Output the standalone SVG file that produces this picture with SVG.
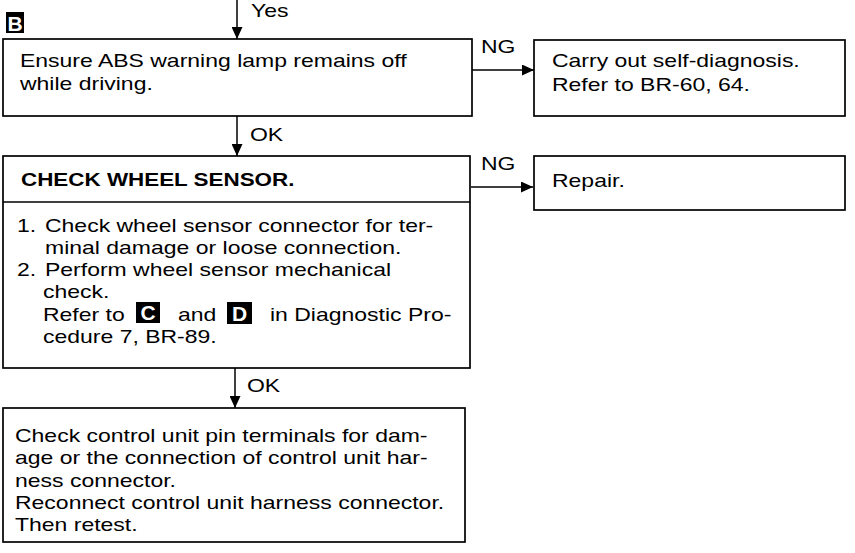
<svg xmlns="http://www.w3.org/2000/svg" width="855" height="553" viewBox="0 0 855 553">
<style>
  .box{fill:#fff;stroke:#000;stroke-width:1.7}
  .ln{fill:none;stroke:#000;stroke-width:1.5}
  text{font-family:"Liberation Sans",Arial,sans-serif;font-size:19px;fill:#000}
  .b{font-weight:bold}
  .badge{fill:#000}
  .bt{fill:#fff;font-weight:bold;font-size:21px}
</style>
<defs>
  <marker id="ah" markerUnits="userSpaceOnUse" markerWidth="13" markerHeight="11" refX="12" refY="5.5" orient="auto">
    <path d="M0,0 L12,5.5 L0,11 z" fill="#000"/>
  </marker>
</defs>
<rect width="855" height="553" fill="#fff"/>

<g id="connectors">
  <line class="ln" x1="237" y1="0" x2="237" y2="39" marker-end="url(#ah)"/>
  <text transform="matrix(1.21 0 0 1 251 17)">Yes</text>
  <line class="ln" x1="237" y1="116" x2="237" y2="156" marker-end="url(#ah)"/>
  <text transform="matrix(1.21 0 0 1 250 141)">OK</text>
  <line class="ln" x1="235" y1="368" x2="235" y2="408" marker-end="url(#ah)"/>
  <text transform="matrix(1.21 0 0 1 247 392)">OK</text>
  <line class="ln" x1="472" y1="70" x2="534" y2="70" marker-end="url(#ah)"/>
  <text transform="matrix(1.21 0 0 1 481 53)">NG</text>
  <line class="ln" x1="471" y1="187" x2="533" y2="187" marker-end="url(#ah)"/>
  <text transform="matrix(1.21 0 0 1 481 170)">NG</text>
</g>

<g id="label-B">
  <rect class="badge" x="6" y="12" width="18" height="21"/>
  <text class="bt" transform="matrix(1 0 0 1 7.5 31)">B</text>
</g>

<g id="node-ensure">
  <rect class="box" x="3" y="39" width="469" height="77"/>
  <text transform="matrix(1.21 0 0 1 20 67)">Ensure ABS warning lamp remains off</text>
  <text transform="matrix(1.21 0 0 1 20 90)">while driving.</text>
</g>

<g id="node-selfdiag">
  <rect class="box" x="534" y="40" width="311" height="76"/>
  <text transform="matrix(1.21 0 0 1 552 67)">Carry out self-diagnosis.</text>
  <text transform="matrix(1.21 0 0 1 552 91)">Refer to BR-60, 64.</text>
</g>

<g id="node-repair">
  <rect class="box" x="534" y="156" width="311" height="54"/>
  <text transform="matrix(1.21 0 0 1 552 187)">Repair.</text>
</g>

<g id="node-check-sensor">
  <rect class="box" x="3" y="156" width="467" height="212"/>
  <line class="ln" x1="3" y1="202" x2="470" y2="202"/>
  <text class="b" transform="matrix(1.18 0 0 1 21 186)">CHECK WHEEL SENSOR.</text>
  <text transform="matrix(1.21 0 0 1 17 232)">1.</text>
  <text transform="matrix(1.21 0 0 1 45 232)">Check wheel sensor connector for ter-</text>
  <text transform="matrix(1.21 0 0 1 45 254)">minal damage or loose connection.</text>
  <text transform="matrix(1.21 0 0 1 17 276)">2.</text>
  <text transform="matrix(1.21 0 0 1 45 276)">Perform wheel sensor mechanical</text>
  <text transform="matrix(1.21 0 0 1 43 298)">check.</text>
  <text transform="matrix(1.21 0 0 1 43 321)">Refer to</text>
  <rect class="badge" x="136" y="302" width="24" height="21"/>
  <text class="bt" transform="matrix(1 0 0 1 140.5 320)">C</text>
  <text transform="matrix(1.21 0 0 1 178 321)">and</text>
  <rect class="badge" x="227" y="302" width="25" height="22"/>
  <text class="bt" transform="matrix(1 0 0 1 232 320.5)">D</text>
  <text transform="matrix(1.21 0 0 1 270 321)">in Diagnostic Pro-</text>
  <text transform="matrix(1.21 0 0 1 43 343)">cedure 7, BR-89.</text>
</g>

<g id="node-control-unit">
  <rect class="box" x="3" y="408" width="462" height="134"/>
  <text transform="matrix(1.21 0 0 1 15 442)">Check control unit pin terminals for dam-</text>
  <text transform="matrix(1.21 0 0 1 15 464)">age or the connection of control unit har-</text>
  <text transform="matrix(1.21 0 0 1 15 487)">ness connector.</text>
  <text transform="matrix(1.21 0 0 1 15 509)">Reconnect control unit harness connector.</text>
  <text transform="matrix(1.21 0 0 1 15 531)">Then retest.</text>
</g>
</svg>
